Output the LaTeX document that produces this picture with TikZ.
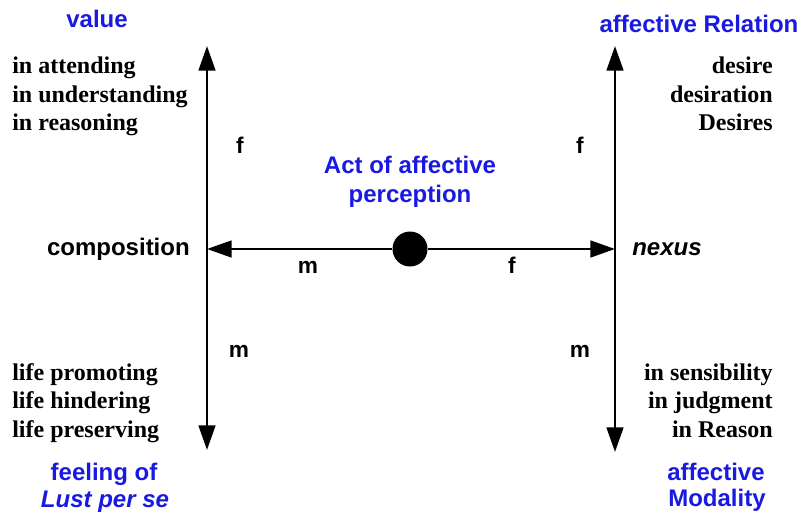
\documentclass[tikz,border=0pt]{standalone}
\usepackage{fontspec}
\setmainfont{Liberation Sans}
\newfontfamily\tmsfont{Liberation Serif}
\usetikzlibrary{arrows.meta}
\definecolor{lblblue}{RGB}{25,25,225}
\tikzset{
  ax/.style={line width=2pt, -{Triangle[length=18.5pt,width=12.5pt]}},
  axboth/.style={line width=2pt, {Triangle[length=18.5pt,width=12.5pt]}-{Triangle[length=18.5pt,width=12.5pt]}},
  bluelbl/.style={inner sep=0pt, text=lblblue, font=\fontsize{18}{21}\selectfont\bfseries, anchor=base},
  blk/.style={inner sep=0pt, font=\fontsize{18}{21}\selectfont\bfseries},
  srf/.style={inner sep=0pt, font=\tmsfont\fontsize{18}{21}\selectfont\bfseries},
  small/.style={inner sep=0pt, font=\fontsize{17}{20}\selectfont\bfseries, anchor=base},
}
\begin{document}
\begin{tikzpicture}[x=0.75pt,y=-0.75pt]
\useasboundingbox (0,0) rectangle (801,514);
% axes
\coordinate (LT) at (207,46);
\coordinate (LB) at (207,450);
\coordinate (RT) at (615,46);
\coordinate (RB) at (615,452);
\coordinate (LM) at (207,249);
\coordinate (RM) at (615,249);
\draw[axboth] (LB) -- (LT);
\draw[axboth] (RB) -- (RT);
\node[circle, fill=black, minimum size=26.25pt, inner sep=0pt] (dot) at (410,249) {};
\draw[ax] (dot) -- (LM);
\draw[ax] (dot) -- (RM);
% blue labels
\node[bluelbl] (value) at (97,27) {value};
\node[bluelbl] (rel) at (699,32) {affective Relation};
\node[bluelbl] (act1) at (410,173) {Act of affective};
\node[bluelbl] (act2) at (410,202) {perception};
\node[bluelbl] (feel1) at (104,480) {feeling of};
\node[bluelbl] (feel2) at (105,507) {\itshape Lust per se};
\node[bluelbl] (mod1) at (716,480) {affective};
\node[bluelbl] (mod2) at (717,506) {Modality};
% black sans
\node[blk, anchor=base east] (comp) at (190,255) {composition};
\node[blk, anchor=base west] (nexus) at (632,255) {\itshape nexus};
% small letters
\node[small] (f1) at (240,153) {f};
\node[small] (f2) at (580,153) {f};
\node[small] (m1) at (308,273) {m};
\node[small] (f3) at (512,273) {f};
\node[small] (m2) at (239,357) {m};
\node[small] (m3) at (580,357) {m};
% serif lists
\node[srf, anchor=base west] (a1) at (12,74) {in attending};
\node[srf, anchor=base west] (a2) at (12,102) {in understanding};
\node[srf, anchor=base west] (a3) at (12,130) {in reasoning};
\node[srf, anchor=base east] (d1) at (773,74) {desire};
\node[srf, anchor=base east] (d2) at (773,102) {desiration};
\node[srf, anchor=base east] (d3) at (773,130) {Desires};
\node[srf, anchor=base west] (l1) at (12,380) {life promoting};
\node[srf, anchor=base west] (l2) at (12,408) {life hindering};
\node[srf, anchor=base west] (l3) at (12,437) {life preserving};
\node[srf, anchor=base east] (s1) at (773,380) {in sensibility};
\node[srf, anchor=base east] (s2) at (773,408) {in judgment};
\node[srf, anchor=base east] (s3) at (773,437) {in Reason};
\end{tikzpicture}
\end{document}
